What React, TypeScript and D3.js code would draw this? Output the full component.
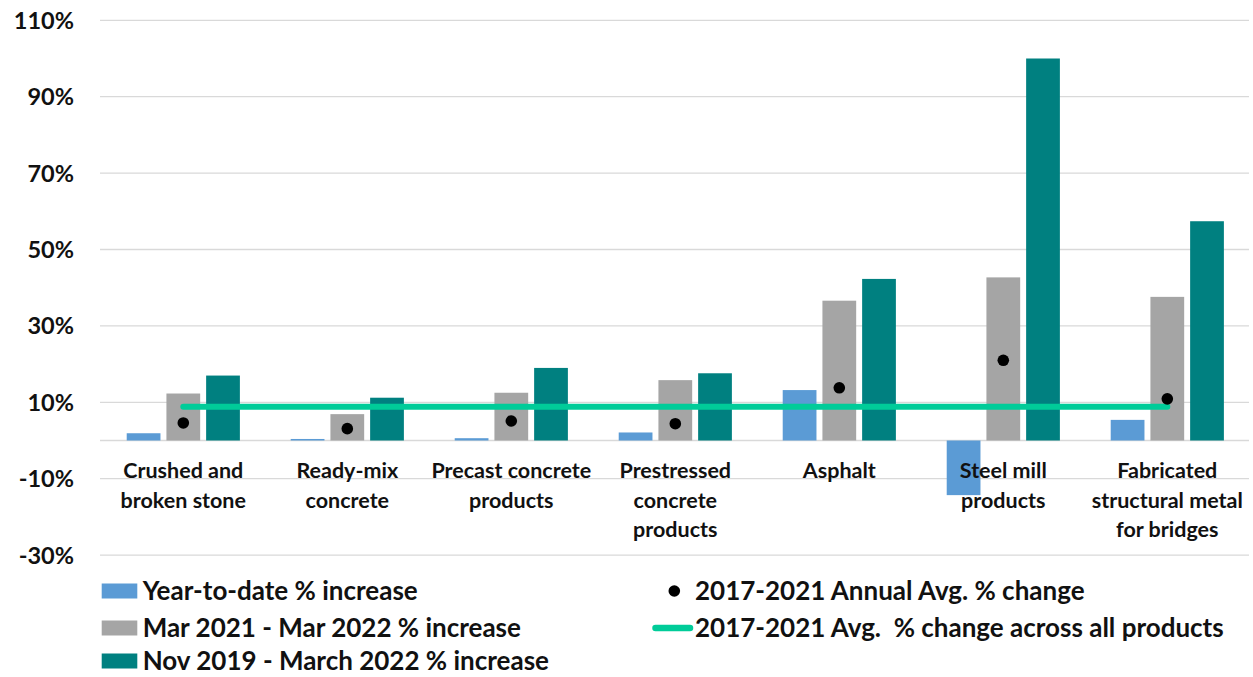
import React from "react";
import * as d3 from "d3";

const categories: string[][] = [
  ["Crushed and", "broken stone"],
  ["Ready-mix", "concrete"],
  ["Precast concrete", "products"],
  ["Prestressed", "concrete", "products"],
  ["Asphalt"],
  ["Steel mill", "products"],
  ["Fabricated", "structural metal", "for bridges"],
];
const catKeys = categories.map((c) => c.join(" "));

const yearToDate = [1.9, 0.4, 0.6, 2.1, 13.2, -14.3, 5.4];
const mar21Mar22 = [12.3, 6.9, 12.5, 15.8, 36.6, 42.7, 37.6];
const nov19Mar22 = [17.0, 11.2, 19.0, 17.6, 42.3, 100.0, 57.4];
const annualAvg = [4.6, 3.1, 5.1, 4.4, 13.8, 21.0, 10.9];
const avgAllProducts = [8.85, 8.85, 8.85, 8.85, 8.85, 8.85, 8.85];

const yTicks = [-30, -10, 10, 30, 50, 70, 90, 110];

const seriesKeys = ["ytd", "yoy", "nov"];
const seriesNames = [
  "Year-to-date % increase",
  "Mar 2021 - Mar 2022 % increase",
  "Nov 2019 - March 2022 % increase",
];
const seriesColors = ["#5B9BD5", "#A5A5A5", "#008080"];
const seriesValues = [yearToDate, mar21Mar22, nov19Mar22];
const dotName = "2017-2021 Annual Avg. % change";
const lineName = "2017-2021 Avg.  % change across all products";
const lineColor = "#00CC99";

const W = 1253;
const H = 677;
const FONT = "Lato, 'Open Sans', sans-serif";

export default function App() {
  const x0 = d3.scaleBand<string>().domain(catKeys).range([101.3, 1249.3]).paddingInner(0).paddingOuter(0);
  const x1 = d3
    .scaleBand<string>()
    .domain(seriesKeys)
    .range([0, x0.bandwidth()])
    .paddingInner(0.15)
    .paddingOuter(0.64);
  const y = d3.scaleLinear().domain([-30, 110]).range([555.1, 20.3]);

  const grayCenter = (i: number) => (x0(catKeys[i]) as number) + (x1("yoy") as number) + x1.bandwidth() / 2;

  const linePath = d3
    .line<number>()
    .x((_, i) => grayCenter(i))
    .y((d) => y(d))(avgAllProducts) as string;

  const legendRowsY = [591, 628, 661];

  return (
    <svg width={W} height={H} style={{ position: "absolute", left: 0, top: 0, background: "#fff" }}>
      <rect x={0} y={0} width={W} height={H} fill="#fff" />
      {/* gridlines */}
      {[...yTicks, 0].map((t) => (
        <line key={t} x1={100} x2={1249} y1={y(t)} y2={y(t)} stroke="#D9D9D9" strokeWidth={1.3} />
      ))}
      {/* y tick labels */}
      {yTicks.map((t) => (
        <text
          key={t}
          x={74}
          y={y(t)}
          dy="0.36em"
          textAnchor="end"
          fontFamily={FONT}
          fontWeight={700}
          fontSize={23.5}
          fill="#111"
        >
          {t}%
        </text>
      ))}
      {/* bars */}
      {catKeys.map((c, ci) => (
        <g key={c} transform={`translate(${x0(c)},0)`}>
          {seriesKeys.map((s, si) => {
            const v = seriesValues[si][ci];
            return (
              <rect
                key={s}
                x={x1(s)}
                width={x1.bandwidth()}
                y={Math.min(y(v), y(0))}
                height={Math.abs(y(v) - y(0))}
                fill={seriesColors[si]}
              />
            );
          })}
        </g>
      ))}
      {/* line across all products */}
      <path d={linePath} fill="none" stroke={lineColor} strokeWidth={6} strokeLinecap="round" />
      {/* dots */}
      {annualAvg.map((v, i) => (
        <circle key={i} cx={grayCenter(i)} cy={y(v)} r={5.8} fill="#000" />
      ))}
      {/* category labels */}
      {categories.map((lines, ci) => (
        <text
          key={ci}
          x={(x0(catKeys[ci]) as number) + x0.bandwidth() / 2}
          y={478}
          textAnchor="middle"
          fontFamily={FONT}
          fontWeight={700}
          fontSize={21.5}
          fill="#111"
        >
          {lines.map((l, li) => (
            <tspan key={li} x={(x0(catKeys[ci]) as number) + x0.bandwidth() / 2} y={478 + li * 29.5}>
              {l}
            </tspan>
          ))}
        </text>
      ))}
      {/* legend column 1 */}
      {seriesNames.map((n, i) => (
        <g key={n}>
          <rect x={101.7} y={legendRowsY[i] - 7.5} width={35.6} height={15} fill={seriesColors[i]} />
          <text
            x={142.7}
            y={legendRowsY[i]}
            dy="0.34em"
            fontFamily={FONT}
            fontWeight={700}
            fontSize={26}
            fill="#111"
          >
            {n}
          </text>
        </g>
      ))}
      {/* legend column 2 */}
      <circle cx={674.3} cy={legendRowsY[0]} r={5.8} fill="#000" />
      <text x={695} y={legendRowsY[0]} dy="0.34em" fontFamily={FONT} fontWeight={700} fontSize={26} fill="#111">
        {dotName}
      </text>
      <line x1={655.5} x2={690} y1={legendRowsY[1]} y2={legendRowsY[1]} stroke={lineColor} strokeWidth={6.5} strokeLinecap="round" />
      <text
        x={695}
        y={legendRowsY[1]}
        dy="0.34em"
        fontFamily={FONT}
        fontWeight={700}
        fontSize={26}
        fill="#111"
        style={{ whiteSpace: "pre" }}
      >
        {lineName}
      </text>
    </svg>
  );
}
